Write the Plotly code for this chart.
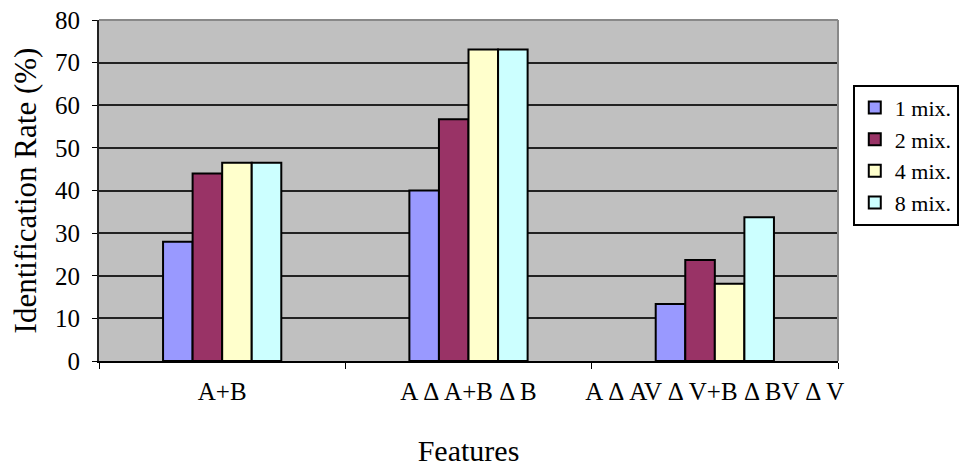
import plotly.graph_objects as go

categories = ["A+B", "A Δ A+B Δ B", "A Δ AV Δ V+B Δ BV Δ V"]
series_names = ["1 mix.", "2 mix.", "4 mix.", "8 mix."]
mix1 = [28.0, 40.0, 13.4]
mix2 = [44.0, 56.7, 23.7]
mix4 = [46.5, 73.1, 18.1]
mix8 = [46.5, 73.1, 33.7]
y_ticks = [0, 10, 20, 30, 40, 50, 60, 70, 80]

colors = ["#9999FF", "#993366", "#FFFFCC", "#CCFFFF"]
font = "Liberation Serif, Times New Roman, serif"

# page body has an 8px offset; margins compensate for it
OFF = 8

fig = go.Figure()
for name, vals, col in zip(series_names, [mix1, mix2, mix4, mix8], colors):
    fig.add_trace(go.Bar(
        x=categories, y=vals, name=name,
        marker=dict(color=col, line=dict(color="black", width=2)),
    ))

fig.update_layout(
    width=972, height=468,
    margin=dict(l=99 - OFF, r=134 + OFF, t=20 - OFF, b=107 + OFF),
    paper_bgcolor="white",
    plot_bgcolor="#C0C0C0",
    barmode="group",
    bargap=0.52,
    bargroupgap=0,
    font=dict(family=font, color="black", size=21),
    legend=dict(
        x=1.02, y=0.81, xanchor="left", yanchor="top",
        bgcolor="white", bordercolor="black", borderwidth=2,
        font=dict(family=font, size=22, color="black"),
        tracegroupgap=0, itemwidth=30,
    ),
    showlegend=True,
)

fig.update_yaxes(
    range=[0, 80], tickvals=y_ticks, ticks="outside", ticklen=5, tickcolor="black",
    showgrid=True, gridcolor="#222222", gridwidth=1.5,
    showline=True, linecolor="#222222", linewidth=2, mirror=False,
    tickfont=dict(family=font, size=25, color="black"),
    ticklabelstandoff=7,
    ticklabeloverflow="allow",
    automargin=False,
    title=dict(text="Identification Rate (%)", font=dict(family=font, size=31, color="black"), standoff=20),
    zeroline=False,
)
fig.update_xaxes(
    ticks="outside", tickson="boundaries", ticklen=6, tickcolor="black",
    showline=True, linecolor="black", linewidth=2,
    tickfont=dict(family=font, size=25, color="black"),
    tickangle=0,
    ticklabelstandoff=7,
    ticklabeloverflow="allow",
    automargin=False,
    title=dict(text="Features", font=dict(family=font, size=30, color="black"), standoff=36),
)
# grey top/right border of plot area
fig.add_shape(type="line", xref="paper", yref="paper", x0=0, y0=1, x1=1, y1=1,
              line=dict(color="#888888", width=2))
fig.add_shape(type="line", xref="paper", yref="paper", x0=1, y0=0, x1=1, y1=1,
              line=dict(color="#888888", width=2))

fig.write_html("out.html")
